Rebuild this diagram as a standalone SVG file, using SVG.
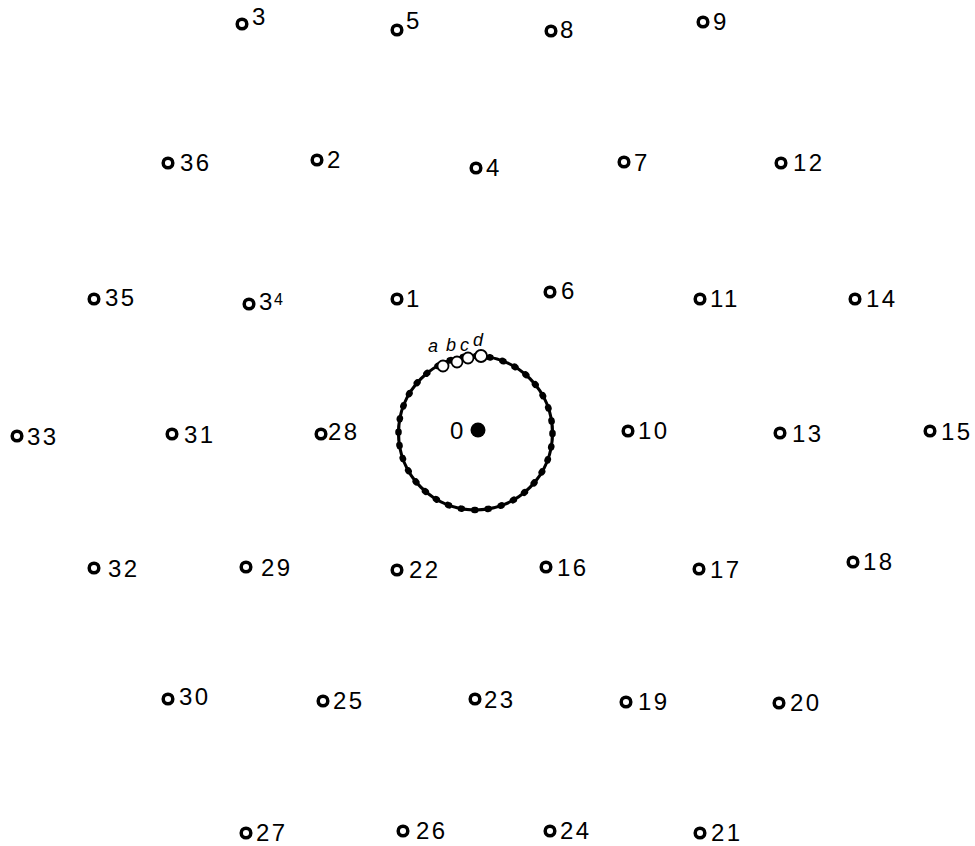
<svg xmlns="http://www.w3.org/2000/svg" width="975" height="846" viewBox="0 0 975 846">
<style>
.n{fill:none;stroke:#000;stroke-width:3.5}
.t{font-family:"Liberation Sans",Arial,sans-serif;font-size:24px;letter-spacing:2.5px;fill:#000}
.s{font-family:"Liberation Sans",Arial,sans-serif;font-size:18px;font-style:italic;fill:#000}
.m{fill:#fff;stroke:#000;stroke-width:1.8}
</style>
<rect width="975" height="846" fill="#fff"/>
<g id="connectors"></g>
<g id="center">
<circle cx="475.5" cy="433" r="77" fill="none" stroke="#000" stroke-width="3.2"/>
<circle cx="475.5" cy="433" r="77" fill="none" stroke="#000" stroke-width="6.5" stroke-linecap="round" stroke-dasharray="1 12.44"/>
<circle cx="478" cy="430" r="7.5" fill="#000"/>
<text class="t" x="450" y="439">0</text>
</g>
<g id="abcd">
<circle class="m" cx="443" cy="366" r="5.5"/>
<circle class="m" cx="457" cy="362" r="5.5"/>
<circle class="m" cx="468" cy="358" r="5.5"/>
<circle class="m" cx="481" cy="356" r="6"/>
<text class="s" x="428" y="352">a</text>
<text class="s" x="446" y="351">b</text>
<text class="s" x="460" y="351">c</text>
<text class="s" x="473" y="346">d</text>
</g>
<g id="n3"><circle class="n" cx="242" cy="24" r="4.8"/><text class="t" x="252" y="25">3</text></g>
<g id="n5"><circle class="n" cx="397" cy="30" r="4.8"/><text class="t" x="406" y="29">5</text></g>
<g id="n8"><circle class="n" cx="551" cy="31" r="4.8"/><text class="t" x="560" y="38">8</text></g>
<g id="n9"><circle class="n" cx="703" cy="22" r="4.8"/><text class="t" x="713" y="30">9</text></g>
<g id="n36"><circle class="n" cx="168" cy="163" r="4.8"/><text class="t" x="180" y="171">36</text></g>
<g id="n2"><circle class="n" cx="317" cy="160" r="4.8"/><text class="t" x="327" y="168">2</text></g>
<g id="n4"><circle class="n" cx="476" cy="168" r="4.8"/><text class="t" x="486" y="176">4</text></g>
<g id="n7"><circle class="n" cx="624" cy="162" r="4.8"/><text class="t" x="634" y="171">7</text></g>
<g id="n12"><circle class="n" cx="781" cy="163" r="4.8"/><text class="t" x="793" y="171">12</text></g>
<g id="n35"><circle class="n" cx="94" cy="299" r="4.8"/><text class="t" x="105" y="306">35</text></g>
<g id="n34"><circle class="n" cx="249" cy="304" r="4.8"/><text class="t" x="259" y="310">3</text><text class="t" x="274" y="305" style="font-size:16px">4</text></g>
<g id="n1"><circle class="n" cx="397" cy="299" r="4.8"/><text class="t" x="406" y="307">1</text></g>
<g id="n6"><circle class="n" cx="550" cy="292" r="4.8"/><text class="t" x="561" y="299">6</text></g>
<g id="n11"><circle class="n" cx="700" cy="299" r="4.8"/><text class="t" x="710" y="307">11</text></g>
<g id="n14"><circle class="n" cx="855" cy="299" r="4.8"/><text class="t" x="866" y="307">14</text></g>
<g id="n33"><circle class="n" cx="17" cy="436" r="4.8"/><text class="t" x="27" y="445">33</text></g>
<g id="n31"><circle class="n" cx="172" cy="434" r="4.8"/><text class="t" x="184" y="443">31</text></g>
<g id="n28"><circle class="n" cx="321" cy="434" r="4.8"/><text class="t" x="328" y="440">28</text></g>
<g id="n10"><circle class="n" cx="628" cy="431" r="4.8"/><text class="t" x="638" y="439">10</text></g>
<g id="n13"><circle class="n" cx="780" cy="433" r="4.8"/><text class="t" x="792" y="442">13</text></g>
<g id="n15"><circle class="n" cx="930" cy="431" r="4.8"/><text class="t" x="941" y="440">15</text></g>
<g id="n32"><circle class="n" cx="94" cy="568" r="4.8"/><text class="t" x="108" y="577">32</text></g>
<g id="n29"><circle class="n" cx="246" cy="567" r="4.8"/><text class="t" x="261" y="576">29</text></g>
<g id="n22"><circle class="n" cx="397" cy="570" r="4.8"/><text class="t" x="409" y="578">22</text></g>
<g id="n16"><circle class="n" cx="546" cy="567" r="4.8"/><text class="t" x="557" y="576">16</text></g>
<g id="n17"><circle class="n" cx="699" cy="569" r="4.8"/><text class="t" x="710" y="578">17</text></g>
<g id="n18"><circle class="n" cx="853" cy="562" r="4.8"/><text class="t" x="863" y="570">18</text></g>
<g id="n30"><circle class="n" cx="168" cy="699" r="4.8"/><text class="t" x="179" y="705">30</text></g>
<g id="n25"><circle class="n" cx="323" cy="701" r="4.8"/><text class="t" x="333" y="709">25</text></g>
<g id="n23"><circle class="n" cx="475" cy="699" r="4.8"/><text class="t" x="484" y="708">23</text></g>
<g id="n19"><circle class="n" cx="626" cy="702" r="4.8"/><text class="t" x="638" y="710">19</text></g>
<g id="n20"><circle class="n" cx="779" cy="703" r="4.8"/><text class="t" x="790" y="711">20</text></g>
<g id="n27"><circle class="n" cx="246" cy="833" r="4.8"/><text class="t" x="256" y="841">27</text></g>
<g id="n26"><circle class="n" cx="403" cy="831" r="4.8"/><text class="t" x="416" y="839">26</text></g>
<g id="n24"><circle class="n" cx="550" cy="831" r="4.8"/><text class="t" x="560" y="839">24</text></g>
<g id="n21"><circle class="n" cx="700" cy="833" r="4.8"/><text class="t" x="711" y="841">21</text></g>
</svg>
